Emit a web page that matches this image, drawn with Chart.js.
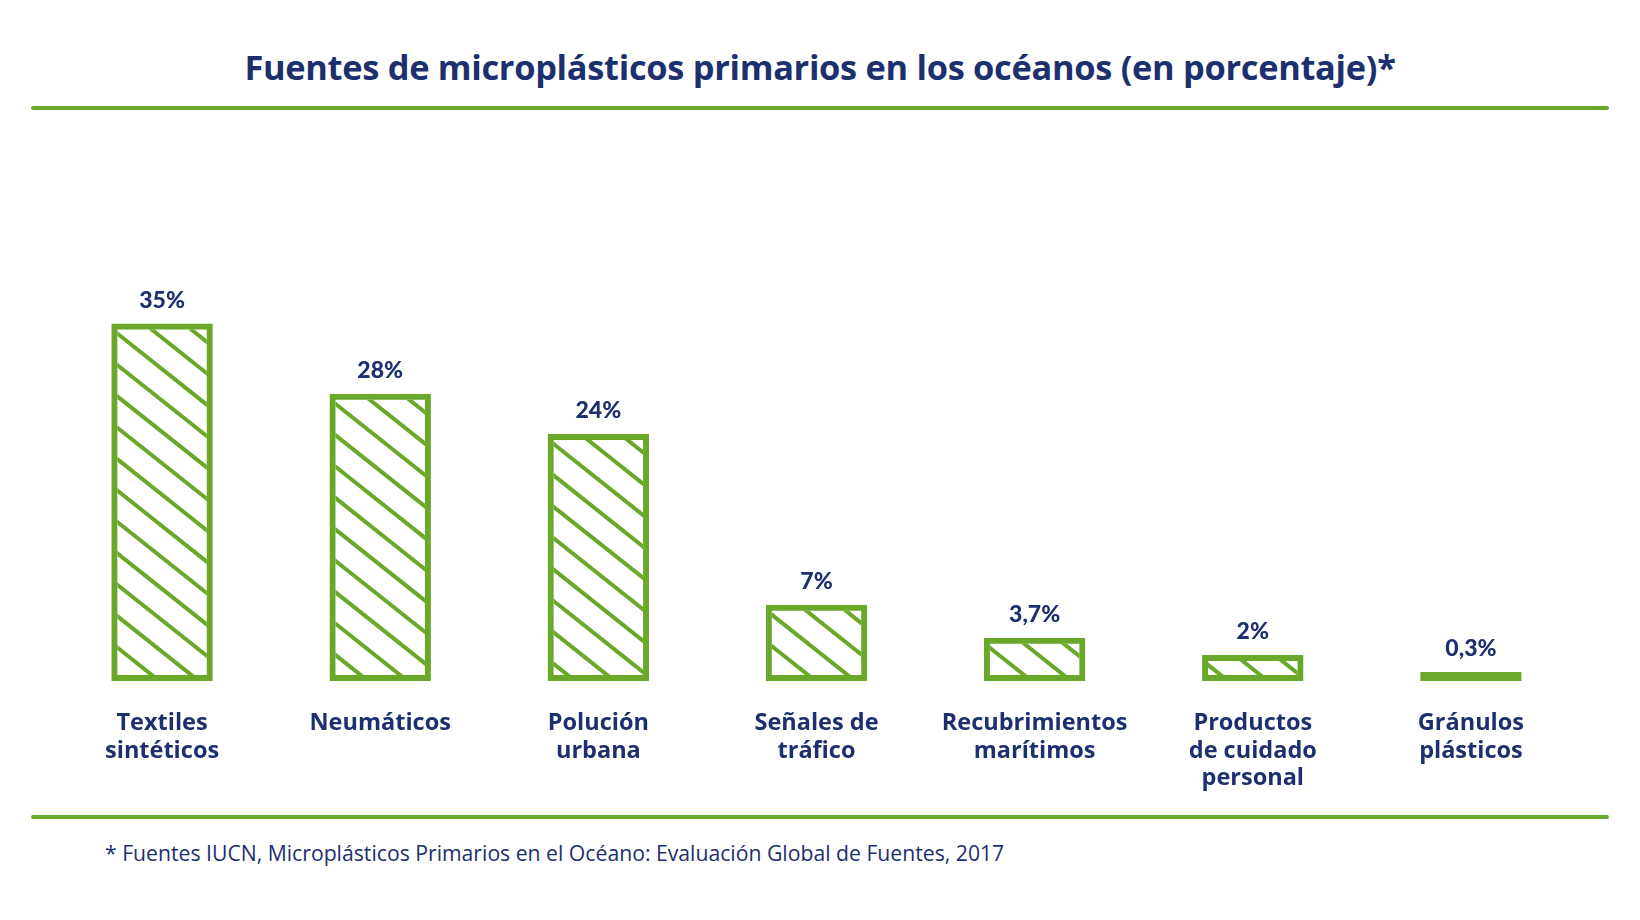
<!DOCTYPE html>
<html>
<head>
<meta charset="utf-8">
<script src="https://cdn.jsdelivr.net/npm/chart.js@4.4.1/dist/chart.umd.min.js"></script>
<style>
  html, body { margin: 0; padding: 0; background: #ffffff; }
  body { width: 1640px; height: 920px; position: relative; overflow: hidden; }
  #title {
    position: absolute; left: 0; width: 1640px; top: 42px; text-align: center;
    font-family: "Open Sans", sans-serif; font-weight: 700; font-size: 34.4px;
    color: #1c2f6e; letter-spacing: -0.3px; line-height: 50px;
  }
  .rule { position: absolute; left: 31px; width: 1578px; height: 4px; background: #6aa829; border-radius: 2px; }
  #rule1 { top: 106px; }
  #rule2 { top: 815px; }
  #footer {
    position: absolute; left: 105px; top: 838px;
    font-family: "Open Sans", sans-serif; font-size: 21.2px; color: #1c2f6e; line-height: 30px;
  }
  #wrap { position: absolute; left: 0; top: 200px; width: 1640px; height: 600px; }
</style>
</head>
<body>
<div id="title">Fuentes de microplásticos primarios en los océanos (en porcentaje)*</div>
<div class="rule" id="rule1"></div>
<div id="wrap"><canvas id="c" width="1640" height="600"></canvas></div>
<div class="rule" id="rule2"></div>
<div id="footer">* Fuentes IUCN, Microplásticos Primarios en el Océano: Evaluación Global de Fuentes, 2017</div>
<script>
const categories = [
  ["Textiles", "sintéticos"],
  ["Neumáticos"],
  ["Polución", "urbana"],
  ["Señales de", "tráfico"],
  ["Recubrimientos", "marítimos"],
  ["Productos", "de cuidado", "personal"],
  ["Gránulos", "plásticos"]
];
const values = [35, 28, 24, 7, 3.7, 2, 0.3];
const valueLabels = ["35%", "28%", "24%", "7%", "3,7%", "2%", "0,3%"];

const GREEN = "#6aa829";
const NAVY = "#1c2f6e";

const hatchPlugin = {
  id: "hatch",
  beforeDatasetsDraw(chart) {
    const ctx = chart.ctx;
    const meta = chart.getDatasetMeta(0);
    const bw = 6;
    meta.data.forEach((bar) => {
      const left = bar.x - bar.width / 2 + bw;
      const right = bar.x + bar.width / 2 - bw;
      const top = Math.min(bar.y, bar.base) + bw;
      const bottom = Math.max(bar.y, bar.base) - bw;
      if (right <= left || bottom <= top) return;
      ctx.save();
      ctx.beginPath();
      ctx.rect(left, top, right - left, bottom - top);
      ctx.clip();
      ctx.strokeStyle = GREEN;
      ctx.lineWidth = 4;
      ctx.lineCap = "round";
      const slope = 0.795;
      const spacing = 31.4;
      const w = right - left;
      const startY = top + 4 - Math.ceil((w * slope) / spacing + 1) * spacing;
      for (let y0 = startY; y0 < bottom + spacing; y0 += spacing) {
        ctx.beginPath();
        ctx.moveTo(left - 2, y0 - 2 * slope);
        ctx.lineTo(right + 2, y0 + (w + 2) * slope);
        ctx.stroke();
      }
      ctx.restore();
    });
  },
  afterDatasetsDraw(chart) {
    const ctx = chart.ctx;
    const meta = chart.getDatasetMeta(0);
    ctx.save();
    ctx.fillStyle = NAVY;
    ctx.font = "900 23px Lato, sans-serif";
    ctx.textAlign = "center";
    ctx.textBaseline = "middle";
    meta.data.forEach((bar, i) => {
      ctx.fillText(valueLabels[i], bar.x, Math.min(bar.y, bar.base) - 23);
    });
    ctx.restore();
  }
};

new Chart(document.getElementById("c"), {
  type: "bar",
  data: {
    labels: categories,
    datasets: [{
      data: values,
      base: -0.6,
      backgroundColor: "rgba(0,0,0,0)",
      borderColor: GREEN,
      borderWidth: 6,
      borderSkipped: false,
      barPercentage: 0.93,
      categoryPercentage: 0.5
    }]
  },
  options: {
    responsive: false,
    animation: false,
    layout: { padding: { left: 53, right: 60, top: 73.4, bottom: 0 } },
    plugins: { legend: { display: false }, tooltip: { enabled: false } },
    scales: {
      x: {
        grid: { display: false, drawTicks: false },
        border: { display: false },
        ticks: {
          color: NAVY,
          font: { family: "Open Sans", weight: "700", size: 23.5, lineHeight: 1.16 },
          padding: 29,
          maxRotation: 0,
          autoSkip: false
        },
        afterFit(scale) { scale.height = 119; }
      },
      y: {
        display: false,
        min: -0.6,
        max: 40
      }
    }
  },
  plugins: [hatchPlugin]
});
</script>
</body>
</html>
